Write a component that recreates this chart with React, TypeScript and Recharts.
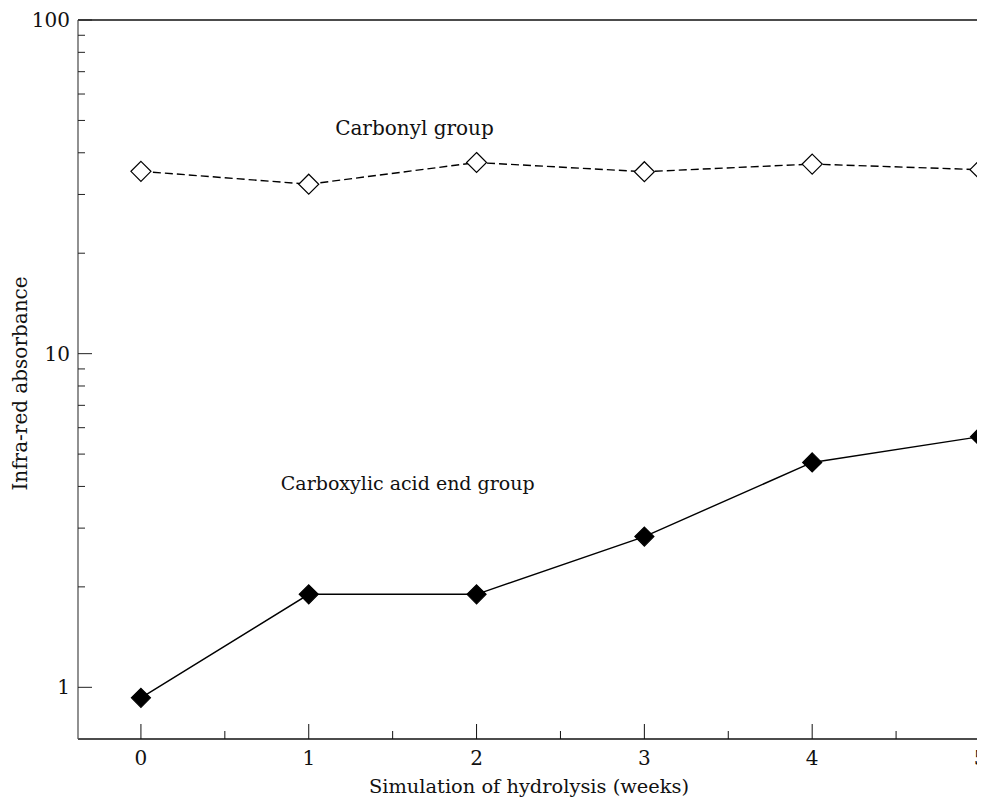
import { ComposedChart, Line, XAxis, YAxis, ReferenceLine, ReferenceDot, Label } from 'recharts'

const weeks = [0, 1, 2, 3, 4, 5]
const carbonyl = [35.2, 32.2, 37.4, 35.1, 37.0, 35.6]
const carboxylic = [0.93, 1.9, 1.9, 2.83, 4.72, 5.64]

const xTicks = [0, 0.5, 1, 1.5, 2, 2.5, 3, 3.5, 4, 4.5, 5]
const yTicks = [1, 2, 3, 4, 5, 6, 7, 8, 9, 10, 20, 30, 40, 50, 60, 70, 80, 90, 100]
const yLabelled = [1, 10, 100]

const FONT = '"DejaVu Serif", serif'
const FS = 20

const data = weeks.map((w, i) => ({ week: w, carbonyl: carbonyl[i], carboxylic: carboxylic[i] }))

function XTick(props: any) {
  const { x, y, payload } = props
  const major = Number.isInteger(payload.value)
  return (
    <g>
      <line x1={x} x2={x} y1={y} y2={y - (major ? 15 : 8)} stroke="#111" strokeWidth={1} />
      {major && (
        <text x={x} y={y + 26} textAnchor="middle" fontFamily={FONT} fontSize={FS} fill="#111">
          {payload.value}
        </text>
      )}
    </g>
  )
}

function YTick(props: any) {
  const { x, y, payload } = props
  const major = yLabelled.includes(payload.value)
  return (
    <g>
      <line x1={x} x2={x + (major ? 14 : 7)} y1={y} y2={y} stroke="#222" strokeWidth={1} />
      {major && (
        <text x={x - 8} y={y + 7} textAnchor="end" fontFamily={FONT} fontSize={FS} fill="#111">
          {payload.value}
        </text>
      )}
    </g>
  )
}

function diamond(filled: boolean) {
  return (props: any) => {
    const { cx, cy, index } = props
    if (cx == null || cy == null) return <g key={index} />
    const s = filled ? 9.5 : 10
    return (
      <polygon
        key={index}
        points={`${cx},${cy - s} ${cx + s},${cy} ${cx},${cy + s} ${cx - s},${cy}`}
        fill={filled ? '#000' : '#fff'}
        stroke="#000"
        strokeWidth={1.2}
      />
    )
  }
}

export default function App() {
  return (
    <>
      <style>{`html, body { overflow: hidden; }`}</style>
      <ComposedChart
        width={977}
        height={790}
        data={data}
        margin={{ top: 12, right: 5, left: 0, bottom: 0 }}
      >
        <XAxis
          dataKey="week"
          type="number"
          domain={[-0.375, 5]}
          ticks={xTicks}
          interval={0}
          tickSize={0}
          tickMargin={0}
          tickLine={false}
          tick={<XTick />}
          height={59}
          axisLine={{ stroke: '#111', strokeWidth: 1.3 }}
        >
          <Label
            content={(p: any) => {
              const vb = p.viewBox
              return (
                <text x={vb.x + vb.width / 2} y={vb.y + 54} textAnchor="middle" fontFamily={FONT} fontSize={19.4} fill="#111">
                  Simulation of hydrolysis (weeks)
                </text>
              )
            }}
          />
        </XAxis>
        <YAxis
          scale="log"
          type="number"
          domain={[0.7, 100]}
          ticks={yTicks}
          interval={0}
          tickSize={0}
          tickMargin={0}
          tickLine={false}
          tick={<YTick />}
          width={70}
          axisLine={{ stroke: '#555', strokeWidth: 1.3 }}
        >
          <Label
            content={(p: any) => {
              const vb = p.viewBox
              const cy = vb.y + vb.height / 2
              return (
                <text
                  x={19}
                  y={cy + 4}
                  transform={`rotate(-90, 19, ${cy + 4})`}
                  textAnchor="middle"
                  fontFamily={FONT}
                  fontSize={FS}
                  fill="#111"
                >
                  Infra-red absorbance
                </text>
              )
            }}
          />
        </YAxis>
        <ReferenceLine y={100} stroke="#111" strokeWidth={1.3} />
        <ReferenceLine x={5} stroke="#777" strokeWidth={1.3} />
        <ReferenceDot x={1.63} y={47.5} r={0} fill="none" stroke="none">
          <Label value="Carbonyl group" position="center" fontFamily={FONT} fontSize={FS} fill="#111" />
        </ReferenceDot>
        <ReferenceDot x={1.59} y={4.08} r={0} fill="none" stroke="none">
          <Label value="Carboxylic acid end group" position="center" fontFamily={FONT} fontSize={19} fill="#111" />
        </ReferenceDot>
        <Line
          dataKey="carbonyl"
          type="linear"
          stroke="#000"
          strokeWidth={1.4}
          strokeDasharray="8 4"
          dot={diamond(false)}
          activeDot={false}
          isAnimationActive={false}
        />
        <Line
          dataKey="carboxylic"
          type="linear"
          stroke="#000"
          strokeWidth={1.4}
          dot={diamond(true)}
          activeDot={false}
          isAnimationActive={false}
        />
      </ComposedChart>
    </>
  )
}
